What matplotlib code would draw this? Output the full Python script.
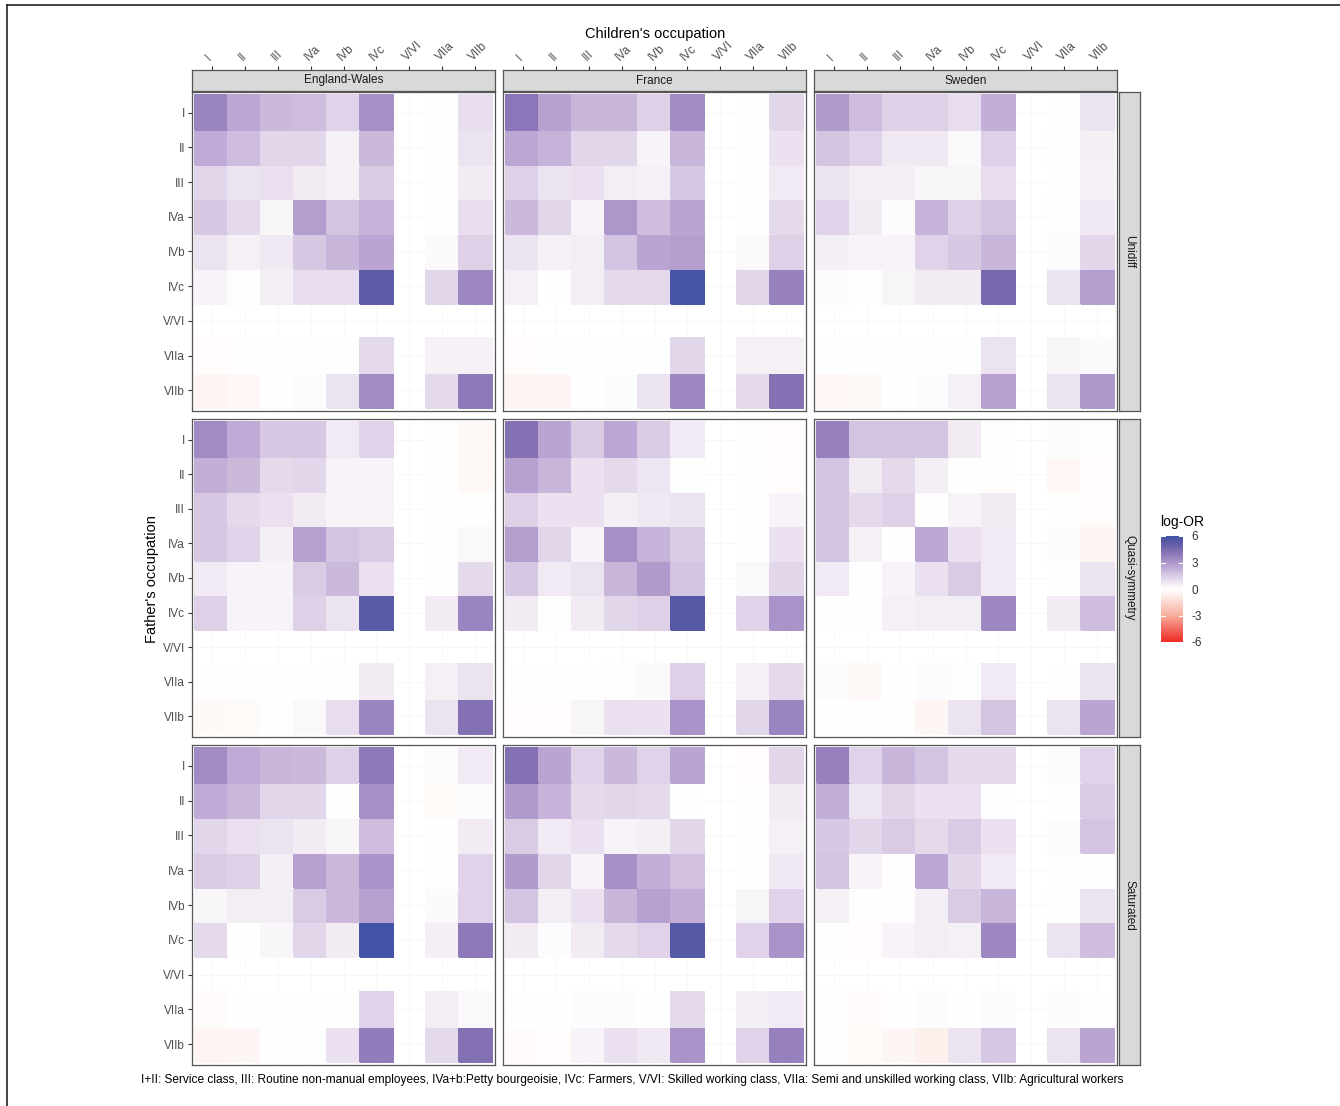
import numpy as np
import matplotlib
matplotlib.use("Agg")
import matplotlib.pyplot as plt
from matplotlib.colors import LinearSegmentedColormap, Normalize
from matplotlib.cm import ScalarMappable
from matplotlib.lines import Line2D

plt.rcParams['font.family'] = ['Liberation Sans', 'DejaVu Sans']

classes = ["I", "II", "III", "IVa", "IVb", "IVc", "V/VI", "VIIa", "VIIb"]
countries = ["England-Wales", "France", "Sweden"]
models = ["Unidiff", "Quasi-symmetry", "Saturated"]
N = np.nan  # reference category V/VI

# rows: father's class (I..VIIb), columns: children's class (I..VIIb)
unidiff_england = [
    [3.6, 2.5, 2.0, 1.9, 1.3, 3.2, N, 0.05, 1.0],
    [2.4, 1.9, 1.2, 1.2, 0.4, 2.0, N, -0.05, 0.8],
    [1.2, 0.8, 0.9, 0.6, 0.45, 1.5, N, 0.0, 0.6],
    [1.6, 1.1, 0.3, 2.8, 1.7, 2.2, N, 0.0, 1.0],
    [0.8, 0.45, 0.7, 1.6, 2.1, 2.6, N, 0.15, 1.4],
    [0.35, 0.05, 0.55, 1.0, 1.0, 5.2, N, 1.2, 3.5],
    [N, N, N, N, N, N, N, N, N],
    [-0.1, -0.05, 0.02, 0.03, 0.0, 1.1, N, 0.4, 0.4],
    [-0.4, -0.3, 0.0, 0.1, 0.8, 3.4, N, 1.1, 3.9],
]
unidiff_france = [
    [4.0, 2.7, 2.1, 2.1, 1.4, 3.4, N, 0.05, 1.2],
    [2.5, 2.2, 1.2, 1.2, 0.35, 2.1, N, -0.03, 0.85],
    [1.4, 0.8, 0.9, 0.55, 0.45, 1.6, N, 0.0, 0.65],
    [2.0, 1.2, 0.35, 3.0, 1.9, 2.6, N, 0.0, 1.1],
    [0.8, 0.45, 0.55, 1.7, 2.6, 2.8, N, 0.2, 1.4],
    [0.45, 0.02, 0.5, 1.1, 1.1, 5.8, N, 1.2, 3.7],
    [N, N, N, N, N, N, N, N, N],
    [-0.1, -0.03, 0.02, 0.02, 0.03, 1.2, N, 0.45, 0.45],
    [-0.45, -0.35, 0.0, 0.1, 0.8, 3.5, N, 1.1, 4.2],
]
unidiff_sweden = [
    [2.9, 1.9, 1.4, 1.4, 1.0, 2.3, N, 0.0, 0.8],
    [1.7, 1.3, 0.7, 0.7, 0.15, 1.4, N, 0.05, 0.5],
    [0.8, 0.55, 0.55, 0.3, 0.3, 1.0, N, 0.0, 0.4],
    [1.3, 0.6, 0.12, 2.2, 1.4, 1.7, N, 0.05, 0.7],
    [0.5, 0.35, 0.35, 1.3, 1.6, 2.1, N, 0.1, 1.2],
    [0.12, 0.03, 0.3, 0.6, 0.6, 4.5, N, 0.8, 2.8],
    [N, N, N, N, N, N, N, N, N],
    [-0.03, 0.02, 0.02, -0.02, 0.03, 0.8, N, 0.3, 0.15],
    [-0.3, -0.25, 0.0, 0.1, 0.45, 2.7, N, 0.8, 3.0],
]
qs_england = [
    [3.4, 2.4, 1.6, 1.6, 0.65, 1.3, N, -0.05, -0.25],
    [2.3, 2.0, 1.1, 1.2, 0.35, 0.35, N, -0.03, -0.25],
    [1.6, 1.1, 0.9, 0.6, 0.35, 0.35, N, 0.0, 0.0],
    [1.6, 1.3, 0.5, 2.7, 1.7, 1.5, N, 0.0, 0.2],
    [0.65, 0.35, 0.35, 1.5, 2.0, 0.9, N, 0.03, 1.1],
    [1.4, 0.35, 0.35, 1.4, 0.8, 5.3, N, 0.6, 3.6],
    [N, N, N, N, N, N, N, N, N],
    [-0.05, -0.03, 0.02, 0.02, 0.05, 0.6, N, 0.45, 0.8],
    [-0.25, -0.2, 0.0, 0.2, 1.0, 3.6, N, 0.8, 4.2],
]
qs_france = [
    [4.2, 2.6, 1.5, 2.5, 1.5, 0.65, N, -0.05, -0.1],
    [2.7, 2.1, 0.85, 1.1, 0.75, 0.05, N, 0.0, -0.1],
    [1.4, 0.85, 0.85, 0.5, 0.7, 0.8, N, 0.05, 0.35],
    [2.8, 1.2, 0.35, 3.2, 2.2, 1.5, N, 0.03, 0.85],
    [1.6, 0.65, 0.8, 2.1, 2.9, 1.7, N, 0.2, 1.2],
    [0.6, 0.05, 0.6, 1.2, 1.4, 5.4, N, 1.3, 3.1],
    [N, N, N, N, N, N, N, N, N],
    [-0.03, 0.0, 0.03, 0.05, 0.15, 1.4, N, 0.45, 1.1],
    [-0.12, -0.1, 0.3, 0.9, 0.85, 3.1, N, 1.2, 3.6],
]
qs_sweden = [
    [3.7, 1.7, 1.7, 1.7, 0.6, 0.03, N, 0.1, 0.03],
    [1.7, 0.6, 1.1, 0.5, 0.02, -0.05, N, -0.3, -0.1],
    [1.7, 1.1, 1.4, 0.02, 0.35, 0.6, N, 0.0, -0.12],
    [1.7, 0.45, 0.0, 2.5, 0.9, 0.65, N, 0.1, -0.4],
    [0.65, 0.0, 0.35, 0.9, 1.5, 0.65, N, 0.03, 0.8],
    [0.02, -0.05, 0.45, 0.55, 0.55, 3.5, N, 0.6, 1.9],
    [N, N, N, N, N, N, N, N, N],
    [0.1, -0.25, 0.02, 0.1, 0.05, 0.65, N, -0.05, 0.8],
    [0.02, -0.03, -0.08, -0.35, 0.8, 1.7, N, 0.8, 2.6],
]
sat_england = [
    [3.4, 2.4, 2.1, 2.0, 1.4, 3.9, N, 0.1, 0.65],
    [2.4, 2.0, 1.2, 1.2, 0.02, 3.2, N, -0.2, 0.1],
    [1.2, 0.9, 0.8, 0.6, 0.3, 1.9, N, 0.0, 0.6],
    [1.5, 1.4, 0.5, 2.7, 2.0, 3.1, N, 0.0, 1.3],
    [0.25, 0.55, 0.55, 1.5, 2.0, 2.7, N, 0.15, 1.3],
    [1.1, 0.02, 0.25, 1.2, 0.6, 5.9, N, 0.5, 3.9],
    [N, N, N, N, N, N, N, N, N],
    [-0.15, 0.03, 0.02, -0.03, 0.0, 1.3, N, 0.55, 0.2],
    [-0.45, -0.35, 0.0, -0.03, 0.85, 3.8, N, 1.1, 4.2],
]
sat_france = [
    [4.2, 2.6, 1.3, 2.0, 1.3, 2.6, N, -0.1, 1.2],
    [2.9, 2.2, 1.1, 1.2, 1.1, 0.0, N, 0.02, 0.6],
    [1.5, 0.65, 0.9, 0.35, 0.5, 1.2, N, 0.02, 0.45],
    [2.9, 1.2, 0.35, 3.2, 2.3, 1.8, N, 0.0, 0.7],
    [1.7, 0.55, 0.9, 2.1, 2.7, 2.3, N, 0.3, 1.3],
    [0.6, 0.1, 0.6, 1.1, 1.3, 5.4, N, 1.3, 3.1],
    [N, N, N, N, N, N, N, N, N],
    [0.02, 0.02, 0.1, 0.1, 0.03, 1.1, N, 0.5, 0.65],
    [-0.15, -0.12, 0.35, 0.9, 0.7, 3.1, N, 1.3, 3.7],
]
sat_sweden = [
    [3.7, 1.3, 2.1, 1.7, 1.1, 1.1, N, 0.1, 1.3],
    [2.3, 0.75, 1.2, 0.85, 0.85, 0.02, N, -0.08, 1.5],
    [1.6, 1.2, 1.5, 1.1, 1.5, 0.85, N, 0.1, 1.7],
    [1.7, 0.35, -0.08, 2.5, 1.2, 0.65, N, -0.03, 0.03],
    [0.45, 0.0, 0.0, 0.5, 1.5, 2.1, N, 0.05, 0.8],
    [0.02, -0.12, 0.35, 0.55, 0.45, 3.5, N, 0.8, 1.9],
    [N, N, N, N, N, N, N, N, N],
    [0.05, -0.15, -0.05, 0.1, 0.03, 0.1, N, 0.1, 0.0],
    [0.0, -0.2, -0.35, -0.6, 0.8, 1.6, N, 0.8, 2.6],
]

panels = [
    [unidiff_england, unidiff_france, unidiff_sweden],
    [qs_england, qs_france, qs_sweden],
    [sat_england, sat_france, sat_sweden],
]

anchors = [
    (-6, "#EE2A24"), (-3, "#F8AE9E"), (-1, "#FCE6DF"), (0, "#FFFFFF"),
    (0.5, "#F4EEF5"), (1, "#E8DDEE"), (1.5, "#DACCE5"), (2, "#CBB9DC"),
    (2.5, "#BDA8D4"), (3, "#AE97CA"), (3.5, "#9D88C1"), (4, "#8B77B8"),
    (4.5, "#7A6AAE"), (5, "#675FA8"), (5.5, "#5459A6"), (6, "#3F52A8"),
]
cmap = LinearSegmentedColormap.from_list(
    "logor", [((v + 6) / 12, c) for v, c in anchors])
norm = Normalize(-6, 6)

W, H = 1340, 1106
fig = plt.figure(figsize=(W / 100, H / 100), dpi=100)


def rect(x0, y0, x1, y1):
    return [x0 / W, 1 - y1 / H, (x1 - x0) / W, (y1 - y0) / H]


col_x = [(192, 495), (503, 806), (814, 1117)]
row_y = [(92, 411), (419, 737), (745, 1065)]
border = "#555555"
n = len(classes)
edges = np.arange(n + 1) + 0.5

for r, (y0, y1) in enumerate(row_y):
    for c, (x0, x1) in enumerate(col_x):
        ax = fig.add_axes(rect(x0, y0, x1, y1))
        data = np.array(panels[r][c], dtype=float)[::-1]  # row I at top
        for k in range(1, n + 1):
            ax.axvline(k, color="#F6F6F6", lw=0.5, zorder=0)
            ax.axhline(k, color="#F6F6F6", lw=0.5, zorder=0)
        ax.pcolormesh(edges, edges, np.ma.masked_invalid(data), cmap=cmap,
                      norm=norm, zorder=1, edgecolors="face", linewidth=0.2)
        ax.set_xlim(0.4, n + 0.6)
        ax.set_ylim(0.4, n + 0.6)
        ax.set_xticks([])
        for s in ax.spines.values():
            s.set_color(border)
            s.set_linewidth(0.9)
        if c == 0:
            ax.set_yticks(np.arange(1, n + 1))
            ax.set_yticklabels(classes[::-1], fontsize=8.5, color="#4D4D4D")
            ax.tick_params(axis="y", length=3, width=0.8, color="#333333",
                           pad=2)
        else:
            ax.set_yticks([])
        # right strip
        if c == 2:
            sax = fig.add_axes(rect(1119, y0, 1140, y1))
            sax.set_facecolor("#D9D9D9")
            sax.set_xticks([])
            sax.set_yticks([])
            for s in sax.spines.values():
                s.set_color(border)
                s.set_linewidth(0.9)
            sax.text(0.5, 0.5, models[r], rotation=-90, ha="center",
                     va="center", fontsize=8.5, color="#1A1A1A",
                     transform=sax.transAxes)

# top strips with children's class axis
for c, (x0, x1) in enumerate(col_x):
    sax = fig.add_axes(rect(x0, 70, x1, 91))
    sax.set_facecolor("#D9D9D9")
    sax.set_xlim(0.4, n + 0.6)
    sax.set_ylim(0, 1)
    sax.set_yticks([])
    sax.xaxis.tick_top()
    sax.set_xticks(np.arange(1, n + 1))
    sax.set_xticklabels(classes, rotation=45, ha="left", va="bottom",
                        rotation_mode="anchor", fontsize=8.5, color="#4D4D4D")
    sax.tick_params(axis="x", length=3, width=0.8, color="#333333", pad=2)
    for s in sax.spines.values():
        s.set_color(border)
        s.set_linewidth(0.9)
    sax.text(0.5, 0.5, countries[c], ha="center", va="center", fontsize=8.5,
             color="#1A1A1A", transform=sax.transAxes)

fig.text(655 / W, 1 - 34 / H, "Children's occupation", ha="center",
         va="center", fontsize=10.5, color="black")
fig.text(152 / W, 1 - 579 / H, "Father's occupation", ha="center",
         va="center", rotation=90, fontsize=10.5, color="black")

# legend
cax = fig.add_axes(rect(1161, 536, 1183, 642))
sm = ScalarMappable(norm=norm, cmap=cmap)
cb = fig.colorbar(sm, cax=cax, ticks=[-6, -3, 0, 3, 6])
cb.ax.set_yticklabels(["-6", "-3", "0", "3", "6"])
cb.outline.set_visible(False)
cax.tick_params(length=0, labelsize=8.5, labelcolor="#333333", pad=6)
for t in [-6, -3, 0, 3, 6]:
    cax.plot([0, 0.2], [t, t], color="white", lw=0.8,
             transform=cax.get_yaxis_transform())
    cax.plot([0.8, 1.0], [t, t], color="white", lw=0.8,
             transform=cax.get_yaxis_transform())
fig.text(1160 / W, 1 - 522 / H, "log-OR", ha="left", va="center",
         fontsize=10, color="black")

fig.text(632 / W, 1 - 1080 / H,
         "I+II: Service class, III: Routine non-manual employees, IVa+b:Petty "
         "bourgeoisie, IVc: Farmers, V/VI: Skilled working class, VIIa: Semi "
         "and unskilled working class, VIIb: Agricultural workers",
         ha="center", va="center", fontsize=8.6, color="black")

# outer frame fragments
fig.add_artist(Line2D([7 / W, 7 / W], [1 - 5 / H, 0], color="#222222",
                      lw=1.2))
fig.add_artist(Line2D([7 / W, 1], [1 - 5 / H, 1 - 5 / H], color="#222222",
                      lw=1.2))

fig.savefig("out.png", dpi=100, facecolor="white")
